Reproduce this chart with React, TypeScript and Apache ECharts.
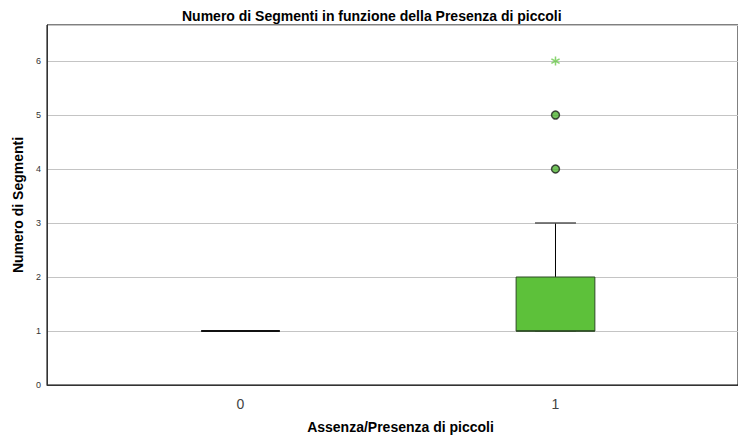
import React, { useEffect, useRef } from "react";
import * as echarts from "echarts";

const categories = ["0", "1"];
const minVals = [1, 1];
const q1Vals = [1, 1];
const medianVals = [1, 1];
const q3Vals = [1, 2];
const maxVals = [1, 3];
const outlierGroup = [1, 1];
const outlierValues = [4, 5];
const extremeGroup = [1];
const extremeValues = [6];
const yTicks = [0, 1, 2, 3, 4, 5, 6];

const BOX_W = 0.25;
const CAP_W = 0.13;
const X_MIN = -0.6143;
const X_MAX = 1.5794;
const FONT = "Arial, 'Liberation Sans', sans-serif";

const ASTERISK =
  "path://M4.2,0 L5.8,0 L5.8,10 L4.2,10 Z " +
  "M1.07,1.81 L9.73,6.81 L8.93,8.19 L0.27,3.19 Z " +
  "M0.27,6.81 L8.93,1.81 L9.73,3.19 L1.07,8.19 Z";

export default function App() {
  const ref = useRef<HTMLDivElement>(null);
  useEffect(() => {
    if (!ref.current) return;
    const chart = echarts.init(ref.current, null, { renderer: "svg" });
    const boxData = categories.map((_, i) => [i, minVals[i], q1Vals[i], medianVals[i], q3Vals[i], maxVals[i]]);
    chart.setOption({
      animation: false,
      backgroundColor: "#ffffff",
      title: {
        text: "Numero di Segmenti in funzione della Presenza di piccoli",
        left: 177,
        top: 4,
        textStyle: { fontFamily: FONT, fontSize: 14, fontWeight: "bold", color: "#000" },
      },
      grid: {
        left: 47,
        right: 0,
        top: 25,
        bottom: 53,
        containLabel: false,
        show: true,
        borderColor: "#000",
        borderWidth: 1,
        backgroundColor: "transparent",
      },
      xAxis: {
        type: "value",
        min: X_MIN,
        max: X_MAX,
        name: "Assenza/Presenza di piccoli",
        nameLocation: "middle",
        nameGap: 35,
        nameTextStyle: { fontFamily: FONT, fontSize: 14, fontWeight: "bold", color: "#000", padding: [0, 0, 0, 16] },
        axisLine: { show: true, onZero: false, lineStyle: { color: "#333", width: 1 } },
        axisTick: { show: false },
        splitLine: { show: false },
        axisLabel: {
          customValues: [0, 1],
          margin: 12,
          fontFamily: FONT,
          fontSize: 14,
          color: "#444",
          formatter: (v: number) => categories[Math.round(v)] ?? "",
        },
      },
      yAxis: {
        type: "value",
        min: 0,
        max: 6.667,
        interval: 1,
        name: "Numero di Segmenti",
        nameLocation: "middle",
        nameGap: 22,
        nameTextStyle: { fontFamily: FONT, fontSize: 14, fontWeight: "bold", color: "#000" },
        axisLine: { show: true, onZero: false, lineStyle: { color: "#333", width: 1 } },
        axisTick: { show: false },
        axisLabel: {
          customValues: yTicks,
          margin: 6,
          fontFamily: FONT,
          fontSize: 9,
          color: "#333",
        },
        splitLine: { show: true, lineStyle: { color: "#c4c4c4", width: 1 } },
      },
      series: [
        {
          type: "custom",
          data: boxData,
          renderItem: (params: any, api: any) => {
            const x = api.value(0);
            const mn = api.value(1);
            const q1 = api.value(2);
            const md = api.value(3);
            const q3 = api.value(4);
            const mx = api.value(5);
            const bw = api.size([BOX_W, 0])[0];
            const cw = api.size([CAP_W, 0])[0];
            const pMax = api.coord([x, mx]);
            const pMin = api.coord([x, mn]);
            const pQ1 = api.coord([x, q1]);
            const pQ3 = api.coord([x, q3]);
            const pMd = api.coord([x, md]);
            const cx = pMax[0];
            const children: any[] = [];
            children.push({
              type: "line",
              shape: { x1: cx, y1: pQ3[1], x2: cx, y2: pMax[1] },
              style: { stroke: "#000", lineWidth: 1 },
            });
            children.push({
              type: "line",
              shape: { x1: cx, y1: pQ1[1], x2: cx, y2: pMin[1] },
              style: { stroke: "#000", lineWidth: 1 },
            });
            children.push({
              type: "line",
              shape: { x1: cx - cw / 2, y1: pMax[1], x2: cx + cw / 2, y2: pMax[1] },
              style: { stroke: "#555", lineWidth: 1.5 },
            });
            children.push({
              type: "line",
              shape: { x1: cx - cw / 2, y1: pMin[1], x2: cx + cw / 2, y2: pMin[1] },
              style: { stroke: "#555", lineWidth: 1.5 },
            });
            if (q3 > q1) {
              children.push({
                type: "rect",
                shape: { x: cx - bw / 2, y: pQ3[1], width: bw, height: pQ1[1] - pQ3[1] },
                style: { fill: "#5dc13a", stroke: "#2d4a24", lineWidth: 1 },
              });
            }
            children.push({
              type: "line",
              shape: { x1: cx - bw / 2, y1: pMd[1], x2: cx + bw / 2, y2: pMd[1] },
              style: { stroke: q3 > q1 ? "#2d4a24" : "#111", lineWidth: q3 > q1 ? 1.5 : 2 },
            });
            return { type: "group", children };
          },
          z: 3,
        },
        {
          type: "scatter",
          data: outlierGroup.map((g, i) => [g, outlierValues[i]]),
          symbol: "circle",
          symbolSize: 8,
          itemStyle: { color: "#4fb332", borderColor: "#1e1e1e", borderWidth: 1.5 },
          z: 4,
        },
        {
          type: "scatter",
          data: extremeGroup.map((g, i) => [g, extremeValues[i]]),
          symbol: ASTERISK,
          symbolSize: 9,
          itemStyle: { color: "#6cc94c" },
          z: 4,
        },
      ],
    });
    return () => chart.dispose();
  }, []);
  return (
    <div
      ref={ref}
      style={{ position: "fixed", left: 0, top: 0, width: 738, height: 439, background: "#fff" }}
    />
  );
}
